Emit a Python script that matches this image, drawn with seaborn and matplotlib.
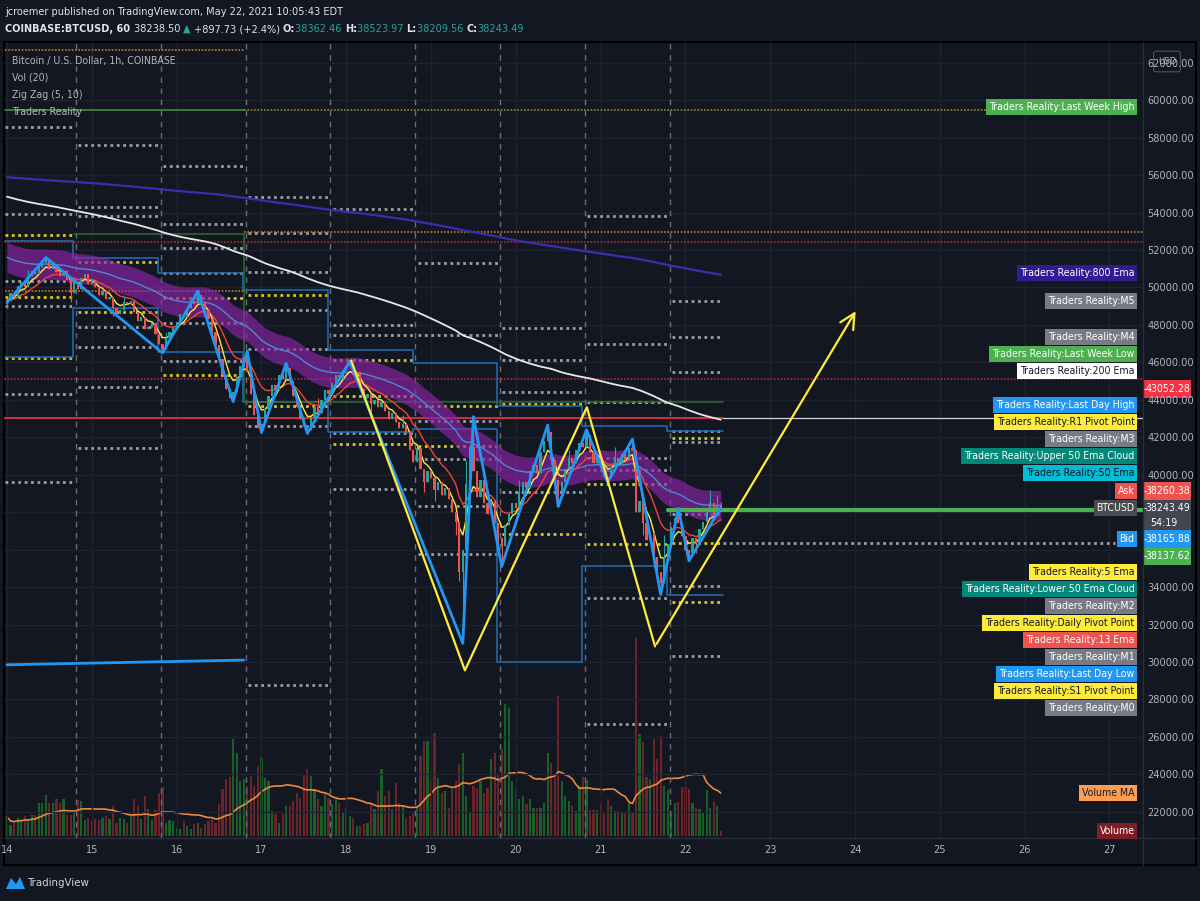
import numpy as np
import pandas as pd
import matplotlib
matplotlib.use("Agg")
import matplotlib.pyplot as plt
from matplotlib.patches import Rectangle, FancyBboxPatch
import seaborn as sns

# BTCUSD 1h (Coinbase), hour 0 = May 14 00:00 EDT
close_14 = [49300, 49700, 49500, 50100, 50300, 50000, 50600, 50900, 50700, 51100, 51300, 51450,
            51000, 51200, 50800, 50600, 50900, 50400, 49700, 50300, 49900, 50500, 50700, 50200]
close_15 = [50400, 50000, 49600, 49800, 49400, 49500, 48900, 48600, 48800, 49200, 49100, 49300,
            48700, 48200, 48400, 47800, 47900, 48100, 47500, 47000, 46700, 47300, 47600, 47900]
close_16 = [48100, 48600, 48400, 48900, 49300, 49100, 49600, 49200, 48800, 48300, 47600, 46900,
            46200, 45300, 44600, 44100, 44400, 45200, 45800, 46300, 45500, 44300, 43200, 42500]
close_17 = [42700, 43500, 44200, 44800, 44500, 45300, 45100, 45700, 45000, 44200, 43600, 43000,
            42600, 42400, 43100, 43600, 43300, 44000, 44500, 44300, 44900, 45300, 45100, 45600]
close_18 = [45800, 45900, 45300, 45500, 44600, 44100, 44300, 43800, 44000, 43600, 43900, 43400,
            43000, 43300, 42800, 42500, 42700, 42300, 41300, 40700, 41400, 40300, 39600, 40200]
close_19 = [39800, 39200, 39600, 38900, 39300, 38700, 38000, 37500, 34800, 36000, 39500, 41500,
            40200, 38800, 39700, 38500, 37900, 38600, 37400, 36600, 36200, 37300, 37900, 38500]
close_20 = [38200, 39100, 39600, 39300, 40200, 40500, 40100, 41200, 41800, 42300, 40800, 39700,
            38800, 39600, 40300, 40900, 40600, 41300, 41700, 41500, 42100, 41200, 40600, 41000]
close_21 = [40500, 39900, 39800, 40400, 40900, 40500, 41100, 40800, 41400, 41300, 38000, 38600,
            37400, 36500, 36900, 35600, 34800, 34200, 35500, 36300, 37200, 37700, 37400, 36700]
close_22 = [36000, 35800, 36600, 36300, 37100, 37500, 38000, 38500, 37900, 38362.46, 38243.49]
closes = close_14 + close_15 + close_16 + close_17 + close_18 + close_19 + close_20 + close_21 + close_22
first_open = 49100

wick_high = {6: 50950, 11: 51600, 17: 50950, 33: 49550, 45: 47600, 54: 49800, 68: 46600, 79: 45950,
             88: 44100, 97: 46050, 112: 43200, 130: 40800, 132: 43100, 145: 39700, 153: 42650,
             159: 41300, 164: 42400, 172: 41500, 177: 41900, 186: 36800, 190: 38200, 199: 39200,
             201: 38900, 202: 38523.97}
wick_low = {0: 48900, 18: 49200, 30: 48500, 44: 46500, 64: 43900, 72: 42250, 85: 42200, 103: 43300,
            118: 39100, 121: 38600, 127: 36800, 128: 34300, 129: 31000, 139: 35900, 140: 35100,
            156: 38300, 170: 39600, 180: 36800, 183: 35000, 185: 33600, 193: 35400, 195: 35800,
            202: 38209.56}

# volume, in the chart's own overlay scale
volume = [19, 11, 13, 18, 15, 20, 16, 21, 21, 33, 33, 41, 33, 33, 37, 33, 37, 21, 21, 23, 36, 35, 16, 18,
          15, 17, 16, 18, 20, 17, 30, 13, 18, 17, 13, 20, 37, 30, 17, 40, 27, 16, 26, 43, 49, 13, 16, 15,
          8, 7, 15, 10, 7, 12, 13, 8, 12, 15, 17, 13, 32, 47, 57, 59, 97, 83, 55, 57, 50, 60, 50, 70,
          79, 58, 55, 25, 22, 13, 22, 30, 30, 35, 43, 38, 62, 67, 60, 47, 37, 30, 42, 38, 32, 37, 33, 23,
          28, 20, 18, 10, 10, 12, 13, 33, 27, 45, 67, 40, 45, 27, 53, 33, 30, 18, 20, 23, 30, 80, 95, 95,
          57, 103, 58, 43, 45, 28, 47, 55, 72, 83, 40, 23, 50, 48, 55, 43, 48, 77, 83, 62, 87, 132, 128, 55,
          47, 37, 40, 32, 37, 28, 28, 28, 33, 83, 73, 58, 140,
          55, 40, 35, 30, 25, 50, 59, 56, 26, 26, 26, 33, 24, 37, 30, 25, 25, 23, 23, 33, 23, 198, 102,
          94, 59, 57, 97, 77, 100, 50, 46, 25, 33, 34, 49, 49, 47, 33, 28, 27, 23, 46, 28, 34, 30, 5]

# Zig Zag (5, 10) pivots
zz_hours = [0, 11, 44, 54, 64, 68, 72, 79, 85, 97, 129, 132, 140, 153, 156, 164, 170, 177, 185, 190, 193, 202]
zz_prices = [49200, 51600, 46500, 49800, 43900, 46600, 42250, 45950, 42200, 46050, 31000, 43100,
             35100, 42650, 38300, 42400, 39600, 41900, 33600, 38200, 35400, 38243]

# hand drawn yellow W + arrow
sketch_hours = [97.4, 129.6, 164.1, 183.4, 240.6]
sketch_prices = [46100, 29550, 43600, 30830, 48860]

# Traders Reality daily levels, one entry per session (sessions roll at 20:00 EDT)
session_start = [0, 20, 44, 68, 92, 116, 140, 164, 188]
last_day_high = [52480, 51570, 50780, 49870, 46650, 45990, 43650, 42590, 42320]
last_day_low = [46310, 48920, 46570, 43860, 42270, 42430, 30000, 35140, 33600]
m_levels = [
    [58540, 53915, 50350, 49020, 44290, 39610],
    [57585, 54290, 53810, 47905, 46840, 44660, 41415],
    [56470, 53385, 52105, 50780, 48115, 46095],
    [54820, 52905, 50830, 48810, 46735, 42585, 28760],
    [54180, 48010, 47480, 42215, 39235],
    [51310, 47480, 42850, 40830, 38330, 35780],
    [47850, 46150, 44395, 39075],
    [53810, 47000, 40885, 40245, 33435, 26680],
    [49285, 47375, 45510, 42320, 41735, 37905, 34075, 30300],
]
pivot_levels = [
    [52800, 49500, 46255],
    [51360, 48700],
    [49445, 45350],
    [49605, 43650],
    [46150, 44180, 41630],
    [43650, 41520],
    [43755, 36840],
    [43860, 39500, 36310],
    [41945, 36362, 33225],
]
week_roll = 67
last_week_high = 59500
last_week_low = [52850, 43860]
prev_week_top = 62700
orange_levels = [49820, 52960]
red_levels = [52425, 45085]
price_line = 43052.28
green_line = 38137.62
bid_line = 36362

ema_seed_50 = 51700
ema_seed_200 = 54900
ema_seed_800 = 55900
cloud_half = 800

day_labels = list(range(14, 28))
price_ticks = list(range(22000, 62001, 2000))
hidden_ticks = [36000, 38000]

# ---------------- derived series ----------------
n = len(closes)
hours = np.arange(n)
c = np.array(closes, dtype=float)
o = np.concatenate([[first_open], c[:-1]])
hi = np.maximum(o, c)
lo = np.minimum(o, c)
for k, v in wick_high.items():
    hi[k] = max(hi[k], v)
for k, v in wick_low.items():
    lo[k] = min(lo[k], v)


def ema(values, span, seed=None):
    s = pd.Series(([seed] if seed is not None else []) + list(values))
    e = s.ewm(span=span, adjust=False).mean().to_numpy()
    return e[1:] if seed is not None else e


ema5 = ema(c, 5)
ema13 = ema(c, 13)
ema50 = ema(c, 50, ema_seed_50)
ema200 = ema(c, 200, ema_seed_200)
ema800 = ema(c, 800, ema_seed_800)
vol_ma = pd.Series(volume, dtype=float).rolling(20, min_periods=1).mean().to_numpy()

# ---------------- figure ----------------
BG = "#131722"
TXT = "#b2b5be"
W, H = 1200, 901
sns.set_theme(style="dark", rc={"axes.facecolor": BG, "figure.facecolor": BG})
plt.rcParams["font.family"] = ["DejaVu Sans"]
plt.rcParams["font.stretch"] = "condensed"

fig = plt.figure(figsize=(12, 9.01), dpi=100, facecolor=BG)


def fx(x):
    return x / W


def fy(y):
    return 1 - y / H


ax = fig.add_axes([fx(4), fy(838), (1143 - 4) / W, (838 - 42) / H])
ax2 = ax.twinx()
ax.set_zorder(ax2.get_zorder() + 1)
ax.patch.set_visible(False)
ax2.patch.set_facecolor(BG)

x0, x1 = -0.85, 321.5
ax.set_xlim(x0, x1)
ax.set_ylim(20600, 63105)
ax2.set_ylim(-2, 794)
ax2.set_yticks([])

# grid
for p in price_ticks:
    ax.axhline(p, color="#1f232e", lw=1, zorder=0)
for d in day_labels:
    ax.axvline((d - 14) * 24, color="#1f232e", lw=1, zorder=0)
ax.grid(False)
ax2.grid(False)

# session separators
for s in session_start[1:]:
    ax.axvline(s - 0.5, color="#6a6d78", lw=1, ls=(0, (4, 4)), zorder=1)

# volume
vcol = np.where(c >= o, "#176128", "#6e2229")
ax2.bar(hours, volume, width=0.62, color=vcol, linewidth=0, zorder=1)
sns.lineplot(x=hours, y=vol_ma, ax=ax2, color="#f0883e", lw=1.2, zorder=2)

# daily levels
dots = (0, (1, 1.3))
ends = session_start[1:] + [202.6]
for k, s in enumerate(session_start):
    a = s + 0.2 if k else -0.6
    b = ends[k] - 1.0 if k < len(ends) - 1 else ends[k]
    for p in m_levels[k]:
        ax.plot([a, b], [p, p], color="#9a9da6", lw=2.0, ls=dots, zorder=2)
    for p in pivot_levels[k]:
        ax.plot([a, b], [p, p], color="#d8c71c", lw=2.0, ls=dots, zorder=2)

# last day high / low steps
sx, shi, slo = [], [], []
for k, s in enumerate(session_start):
    a = s - 1.2 if k else -0.6
    b = ends[k] - 1.2 if k < len(ends) - 1 else ends[k]
    sx += [a, b]
    shi += [last_day_high[k]] * 2
    slo += [last_day_low[k]] * 2
ax.plot(sx, shi, color="#1f6fb8", lw=1.1, zorder=2)
ax.plot(sx, slo, color="#1f6fb8", lw=1.1, zorder=2)

# weekly and other horizontal levels
ax.plot([-0.6, week_roll], [prev_week_top] * 2, color="#c77d1a", lw=1.2, ls=(0, (1, 1)), zorder=2)
ax.plot([-0.6, week_roll], [last_week_high] * 2, color="#3f8f3f", lw=1.2, zorder=2)
ax.plot([week_roll, 282], [last_week_high] * 2, color="#9a8a3a", lw=1.2, ls=(0, (1, 1)), zorder=2)
ax.plot([19, week_roll, week_roll, 202.6], [last_week_low[0], last_week_low[0], last_week_low[1], last_week_low[1]],
        color="#2e6b34", lw=1.1, zorder=2)
ax.plot([-0.6, week_roll], [orange_levels[0]] * 2, color="#c77d1a", lw=1.2, ls=(0, (1, 1)), zorder=2)
ax.plot([week_roll, x1], [orange_levels[1]] * 2, color="#c77d1a", lw=1.2, ls=(0, (1, 1)), zorder=2)
for p in red_levels:
    ax.plot([x0, x1], [p, p], color="#a8302f", lw=1.2, ls=(0, (1, 1)), zorder=2)
ax.plot([x0, 202.6], [price_line] * 2, color="#f23645", lw=1.2, zorder=2)
ax.plot([202.6, x1], [price_line] * 2, color="#d1d4dc", lw=0.9, zorder=2)
ax.plot([187, x1], [green_line] * 2, color="#4caf50", lw=3, zorder=6)
ax.plot([202.6, 313.6], [bid_line] * 2, color="#9a9da6", lw=2.0, ls=dots, zorder=2)
ax.plot([0, 67], [29850, 30100], color="#2196f3", lw=2, zorder=2)

# 50 ema cloud and emas
ax.fill_between(hours, ema50 - cloud_half, ema50 + cloud_half, color="#8e24aa", alpha=0.65, lw=0, zorder=3)
sns.lineplot(x=hours, y=ema800, ax=ax, color="#3a2db0", lw=1.6, zorder=4)
sns.lineplot(x=hours, y=ema200, ax=ax, color="#e8e8e8", lw=1.3, zorder=4)
sns.lineplot(x=hours, y=ema50, ax=ax, color="#4a88d8", lw=1.0, zorder=4)
sns.lineplot(x=hours, y=ema13, ax=ax, color="#f44336", lw=1.0, zorder=5)
sns.lineplot(x=hours, y=ema5, ax=ax, color="#ffeb3b", lw=1.0, zorder=5)

# candles
ccol = np.where(c >= o, "#26a69a", "#ef5350")
ax.vlines(hours, lo, hi, colors=ccol, lw=0.8, zorder=5)
body = np.maximum(np.abs(c - o), 45)
ax.bar(hours, body, bottom=np.minimum(o, c), width=0.62, color=ccol, linewidth=0, zorder=5)

# zig zag and sketch
ax.plot(zz_hours, zz_prices, color="#2196f3", lw=2, zorder=6)
ax.plot(sketch_hours[:-1], sketch_prices[:-1], color="#ffeb3b", lw=1.6, zorder=7)
ax.annotate("", xy=(sketch_hours[-1], sketch_prices[-1]), xytext=(sketch_hours[-2], sketch_prices[-2]),
            arrowprops=dict(arrowstyle="->,head_length=0.9,head_width=0.45", color="#ffeb3b", lw=1.6), zorder=7)

# axes styling
ax.set_xticks([(d - 14) * 24 for d in day_labels])
ax.set_xticklabels([str(d) for d in day_labels])
ax.yaxis.tick_right()
ax.set_yticks(price_ticks)
ax.set_yticklabels(["" if p in hidden_ticks else f"{p:.2f}" for p in price_ticks])
ax.tick_params(axis="both", length=0, colors=TXT, labelsize=7.8)
ax.tick_params(axis="x", pad=5)
ax.tick_params(axis="y", pad=3)
ax.set_xlabel("")
ax.set_ylabel("")
ax2.set_ylabel("")
for a in (ax, ax2):
    for sp in a.spines.values():
        sp.set_visible(False)
fig.add_artist(plt.Line2D([fx(1143)] * 2, [fy(42), fy(865)], color="#2a2e39", lw=1))
fig.add_artist(plt.Line2D([fx(4), fx(1196)], [fy(838)] * 2, color="#2a2e39", lw=1))
fig.add_artist(Rectangle((fx(4), fy(865)), (1196 - 4) / W, (865 - 42) / H, fill=False, ec="black", lw=1.5))

# header, laid out piece by piece
renderer = fig.canvas.get_renderer()
fig.text(fx(5), fy(12), "jcroemer published on TradingView.com, May 22, 2021 10:05:43 EDT",
         color="#e0e3eb", fontsize=7.8, va="center")
teal = "#26a69a"
head = [("COINBASE:BTCUSD, 60 ", "#e0e3eb", "bold"), ("38238.50 ", "#e0e3eb", "normal"), ("\u25b2 ", teal, "normal"),
        ("+897.73 (+2.4%) ", "#e0e3eb", "normal"),
        ("O:", "#e0e3eb", "bold"), ("38362.46 ", teal, "normal"), ("H:", "#e0e3eb", "bold"),
        ("38523.97 ", teal, "normal"), ("L:", "#e0e3eb", "bold"), ("38209.56 ", teal, "normal"),
        ("C:", "#e0e3eb", "bold"), ("38243.49", teal, "normal")]
xpos = 5
for t, col, wt in head:
    tx = fig.text(fx(xpos), fy(29), t, color=col, fontsize=7.8, va="center", weight=wt)
    xpos += tx.get_window_extent(renderer).width

for t, y in [("Bitcoin / U.S. Dollar, 1h, COINBASE", 61), ("Vol (20)", 78), ("Zig Zag (5, 10)", 95), ("Traders Reality", 112)]:
    fig.text(fx(12), fy(y), t, color=TXT, fontsize=7.6, va="center")

# right side tags
GRAY = "#787b86"
YEL = "#ffeb3b"
tags = [("Traders Reality:Last Week High", 107, "#4caf50", "white"),
        ("Traders Reality:800 Ema", 273, "#311b92", "white"),
        ("Traders Reality:M5", 301, GRAY, "white"),
        ("Traders Reality:M4", 337, GRAY, "white"),
        ("Traders Reality:Last Week Low", 354, "#4caf50", "white"),
        ("Traders Reality:200 Ema", 371, "#ffffff", BG),
        ("Traders Reality:Last Day High", 405, "#2196f3", "white"),
        ("Traders Reality:R1 Pivot Point", 422, YEL, BG),
        ("Traders Reality:M3", 439, GRAY, "white"),
        ("Traders Reality:Upper 50 Ema Cloud", 456, "#00897b", "white"),
        ("Traders Reality:50 Ema", 473, "#00bcd4", BG),
        ("Ask", 491, "#ef5350", "white"),
        ("BTCUSD", 508, "#4a4b50", "white"),
        ("Bid", 539, "#2196f3", "white"),
        ("Traders Reality:5 Ema", 572, YEL, BG),
        ("Traders Reality:Lower 50 Ema Cloud", 589, "#00897b", "white"),
        ("Traders Reality:M2", 606, GRAY, "white"),
        ("Traders Reality:Daily Pivot Point", 623, YEL, BG),
        ("Traders Reality:13 Ema", 640, "#ef5350", "white"),
        ("Traders Reality:M1", 657, GRAY, "white"),
        ("Traders Reality:Last Day Low", 674, "#2196f3", "white"),
        ("Traders Reality:S1 Pivot Point", 691, YEL, BG),
        ("Traders Reality:M0", 708, GRAY, "white"),
        ("Volume MA", 793, "#ff9e52", BG),
        ("Volume", 831, "#7f1d25", "white")]
for t, y, bg, fg in tags:
    fig.text(fx(1134.5), fy(y), t, ha="right", va="center", color=fg, fontsize=7.6,
             bbox=dict(boxstyle="square,pad=0.28", fc=bg, ec="none"))

axis_tags = [("43052.28", 389, 380, 398, "#f23645"), ("38260.38", 491, 482, 500, "#ef5350"),
             ("38243.49", 508, 500, 532, "#434651"), ("38165.88", 539, 530, 548, "#2196f3"),
             ("38137.62", 556, 548, 565, "#4caf50")]
for t, y, ya, yb, bg in axis_tags:
    fig.add_artist(Rectangle((fx(1143), fy(yb)), 48 / W, (yb - ya) / H, fc=bg, ec="none"))
    fig.text(fx(1144), fy(y), "-", color="white", fontsize=7.6, va="center")
    fig.text(fx(1190), fy(y), t, color="white", fontsize=7.6, va="center", ha="right")
fig.text(fx(1150), fy(523), "54:19", color="white", fontsize=7.6, va="center")

fig.add_artist(FancyBboxPatch((fx(1156), fy(70)), 22 / W, 17 / H, boxstyle="round,pad=0.002",
                              fc=BG, ec="#50535e", lw=0.8))
fig.text(fx(1167), fy(61), "USD", color=TXT, fontsize=6.8, ha="center", va="center")

# logo
fig.add_artist(plt.Polygon([[fx(6), fy(889)], [fx(11), fy(878)], [fx(16), fy(884)], [fx(20), fy(877)],
                            [fx(25), fy(889)]], closed=True, fc="#2196f3", ec="none"))
fig.text(fx(27), fy(883), "TradingView", color="#d1d4dc", fontsize=8.2, va="center")

fig.savefig("out.png", dpi=100, facecolor=BG)
